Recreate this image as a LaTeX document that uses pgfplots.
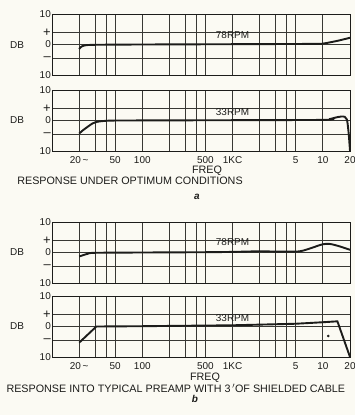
\documentclass[border=0pt]{standalone}
\usepackage{pgfplots}
\pgfplotsset{compat=1.18}
\usepackage{fontspec}
\setmainfont{Liberation Sans}
\definecolor{ink}{HTML}{1C1C1A}
\definecolor{paper}{HTML}{FBFAF3}
\definecolor{gridc}{HTML}{383834}
\newcommand{\lab}{\fontsize{10}{11}\selectfont}
\newcommand{\ttl}{\fontsize{10.8}{12}\selectfont}
\pgfplotsset{every axis/.append style={
    xmin=10, xmax=20000, ymin=-10, ymax=10,
    width=298bp, height=61bp, scale only axis, anchor=north west,
    axis line style={ink, line width=1bp},
    xtick={20,30,40,50,100,200,300,400,500,1000,2000,3000,4000,5000,10000,20000},
    xmajorgrids, ymajorgrids,
    major grid style={gridc, line width=0.85bp},
    major tick length=0pt,
    ytick={-10,-4.5,0,4,10},
    yticklabels={10,{\fontsize{13}{13}\selectfont --\hspace{5bp}},0,{\fontsize{13}{13}\selectfont +\hspace{5bp}},10},
    yticklabel style={font=\lab, text=ink, inner sep=1bp},
    xticklabel style={font=\lab, text=ink},
    clip=false,
}}
\begin{document}
\begin{tikzpicture}
\fill[paper] (0,0) rectangle (355bp,-415bp);
\useasboundingbox (0,0) rectangle (355bp,-415bp);
% panel a, 78 RPM
\begin{semilogxaxis}[xticklabels={}, at={(52bp,-14bp)}]
\addplot[ink, line width=1.9bp, smooth, no marks] coordinates {(20,-1.5) (21,-0.8) (23,-0.3) (30,-0.1) (100,0) (1000,0.1) (8000,0.2) (10000,0.3) (12000,0.7) (15000,1.3) (20000,2.2)};
\node[font=\lab, text=ink] at (axis cs:1000,3.2) {78RPM};
\end{semilogxaxis}
% panel a, 33 RPM
\begin{semilogxaxis}[xticklabels={20\,\textasciitilde,,,50,100,,,,500,1KC,,,,5,10,20}, xticklabel style={yshift=-2bp}, at={(52bp,-90bp)}]
\addplot[ink, line width=1.9bp, smooth, no marks] coordinates {(20,-4.3) (22,-3.2) (25,-2) (28,-1) (32,-0.4) (40,-0.1) (60,0) (1000,0.1) (10000,0.2) (12000,0.5) (14000,1.0) (16000,1.3) (17500,1.2) (18500,0.3) (19300,-4) (20000,-10)};
\node[font=\lab, text=ink] at (axis cs:1000,2.8) {33RPM};
\end{semilogxaxis}
\node[font=\ttl, text=ink] at (207bp,-171bp) {FREQ};
\node[font=\ttl, text=ink] at (130bp,-181bp) {RESPONSE UNDER OPTIMUM CONDITIONS};
\node[font=\bfseries\itshape\lab, text=ink] at (197bp,-197bp) {a};
% panel b, 78 RPM
\begin{semilogxaxis}[xticklabels={}, at={(52bp,-222bp)}]
\addplot[ink, line width=1.9bp, smooth, no marks] coordinates {(20,-1.3) (22,-0.9) (25,-0.4) (30,-0.1) (100,0) (500,0.1) (1000,0.2) (2000,0.4) (3000,0.3) (5000,0.3) (6000,0.6) (7500,1.5) (10000,2.7) (12000,2.8) (15000,2.1) (20000,0.9)};
\node[font=\lab, text=ink] at (axis cs:1000,3.4) {78RPM};
\end{semilogxaxis}
% panel b, 33 RPM
\begin{semilogxaxis}[xticklabels={20\,\textasciitilde,,,50,100,,,,500,1KC,,,,5,10,20}, xticklabel style={yshift=-2bp}, at={(52bp,-296bp)}]
\addplot[ink, line width=1.9bp, no marks] coordinates {(20,-5.3) (31,0) (100,0.1) (1000,0.4) (5000,0.9) (10000,1.4) (14500,1.7) (20000,-10)};
\addplot[ink, only marks, mark=*, mark size=1.1bp] coordinates {(11500,-3.1)};
\node[font=\lab, text=ink] at (axis cs:1000,2.7) {33RPM};
\end{semilogxaxis}
\node[font=\ttl, text=ink] at (205bp,-378bp) {FREQ};
\node[font=\ttl, text=ink, anchor=west] at (3bp,-388bp) {RESPONSE INTO TYPICAL PREAMP WITH 3\,$'$OF SHIELDED CABLE};
\node[font=\bfseries\itshape\lab, text=ink] at (195bp,-399bp) {b};
% DB labels
\node[font=\lab, text=ink] at (17bp,-45bp) {DB};
\node[font=\lab, text=ink] at (17bp,-120bp) {DB};
\node[font=\lab, text=ink] at (17bp,-252bp) {DB};
\node[font=\lab, text=ink] at (17bp,-326bp) {DB};
\end{tikzpicture}
\end{document}
